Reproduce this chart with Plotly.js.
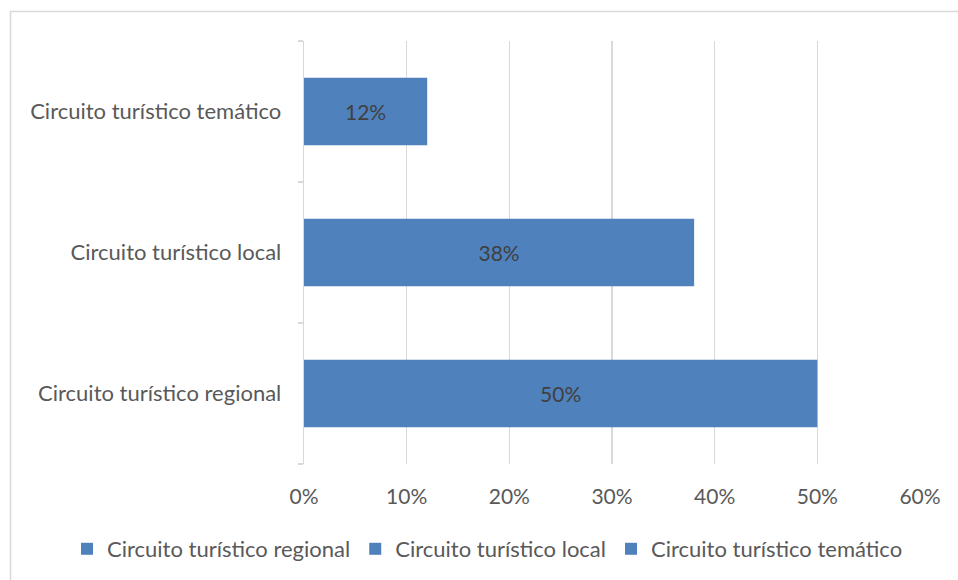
<!DOCTYPE html>
<html>
<head>
<meta charset="utf-8">
<script src="https://cdn.plot.ly/plotly-3.0.1.min.js"></script>
<style>html,body{margin:0;padding:0;background:#fff;}#chart{width:958px;height:580px;}</style>
</head>
<body>
<div id="chart"></div>
<script>
var categories = ["Circuito turístico regional", "Circuito turístico local", "Circuito turístico temático"];
var values = [0.50, 0.38, 0.12];
var labels = ["50%", "38%", "12%"];
var xTickVals = [0, 0.1, 0.2, 0.3, 0.4, 0.5, 0.6];
var xTickText = ["0%", "10%", "20%", "30%", "40%", "50%", "60%"];

var FONT = "Lato, 'Open Sans', sans-serif";
var FS = 22;
var W = 958, H = 580, L = 304, R = 38, T = 41, B = 116;
var pw = W - L - R, ph = H - T - B;
function px(x) { return (x - L) / pw; }
function py(y) { return (H - B - y) / ph; }

var traces = categories.map(function (c, i) {
  return {
    type: 'bar', orientation: 'h',
    name: c,
    y: [c], x: [values[i]],
    text: [labels[i]], textposition: 'inside', insidetextanchor: 'middle',
    textangle: 0, constraintext: 'none',
    textfont: {family: FONT, size: 21, color: '#404040'},
    marker: {color: '#4f81bd', line: {color: '#ffffff', width: 0}},
    width: 0.48,
    hoverinfo: 'skip'
  };
});

var layout = {
  width: W, height: H,
  margin: {l: L, r: R, t: T, b: B, pad: 0, autoexpand: false},
  paper_bgcolor: '#ffffff', plot_bgcolor: '#ffffff',
  barmode: 'overlay',
  showlegend: true,
  font: {family: FONT, size: FS, color: '#595959'},
  xaxis: {
    range: [0, 0.6], tickvals: xTickVals, ticktext: xTickText,
    showgrid: true, gridcolor: '#d9d9d9', gridwidth: 1.3,
    zeroline: false, showline: false, ticks: '',
    tickangle: 0, automargin: false,
    tickfont: {family: FONT, size: 21, color: '#595959'},
    ticklabelstandoff: 18, fixedrange: true
  },
  yaxis: {
    type: 'category', categoryorder: 'array', categoryarray: categories,
    showgrid: false, zeroline: false, automargin: false,
    showline: true, linecolor: '#d9d9d9', linewidth: 1.3,
    ticks: 'outside', tickson: 'boundaries', ticklen: 5, tickcolor: '#d9d9d9', tickwidth: 1.3,
    tickfont: {family: FONT, size: FS, color: '#595959'},
    ticklabelstandoff: 17, fixedrange: true
  },
  legend: {
    orientation: 'h', x: px(67), xanchor: 'left', xref: 'paper',
    y: py(549), yanchor: 'middle', yref: 'paper',
    font: {family: FONT, size: FS, color: '#595959'},
    itemwidth: 30, tracegroupgap: 0, traceorder: 'normal',
    itemclick: false, itemdoubleclick: false
  },
  shapes: [{
    type: 'rect', xref: 'paper', yref: 'paper',
    x0: px(10.5), x1: px(975), y0: py(600), y1: py(11.5),
    line: {color: '#d9d9d9', width: 1.5}, fillcolor: 'rgba(0,0,0,0)', layer: 'below'
  }]
};

Plotly.newPlot('chart', traces, layout, {displayModeBar: false, staticPlot: true});
</script>
</body>
</html>
